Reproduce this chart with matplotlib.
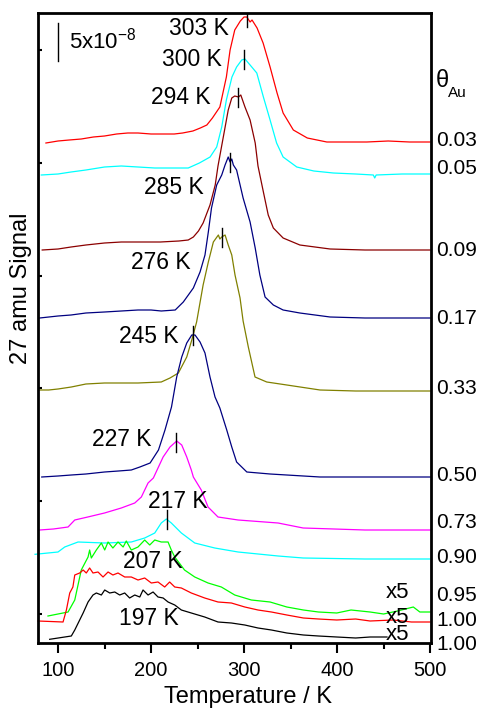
import matplotlib
matplotlib.use('Agg')
import matplotlib.pyplot as plt
import numpy as np

plt.rcParams['font.family'] = ['Liberation Sans', 'DejaVu Sans']
plt.rcParams['mathtext.default'] = 'regular'

# ---------------- data (temperature in K, offset signal in arb. units) ----------------
T_003 = [87, 100, 112, 125, 138, 150, 163, 175, 186, 200, 212, 225, 234, 245, 253, 260, 266, 274, 281, 285,
         290, 296, 300, 303, 306.5, 308.6, 314, 320.5, 328, 335.5, 342, 353, 368, 389, 410, 432, 455, 478, 500]
S_003 = [500, 502, 503, 504, 506, 507, 509, 510, 510, 509, 509, 509, 510, 512, 515, 518, 525, 536, 566, 593,
         613, 622, 626, 626, 621, 623, 615, 600, 576, 550, 530, 513, 505, 501, 501, 501, 502, 501, 501]

T_005 = [82, 100, 114, 130, 150, 168, 186, 204, 222, 240, 252, 263.5, 270.6, 276, 281, 287, 292, 297.5, 301,
         306.5, 313.7, 320.8, 328, 335, 342, 356.7, 375, 396, 420, 439, 440.5, 442, 470, 500]
S_005 = [468, 469, 471, 473, 476, 477, 476, 475, 475, 475, 480, 486, 496, 516, 543, 566, 576, 583, 584,
         578, 570, 546, 523, 500, 486, 476, 472, 470, 469, 468, 465, 468, 469, 469]

T_009 = [83, 100, 114, 130, 150, 168, 186, 210, 230, 240, 245.5, 251, 256, 263.4, 269, 272, 277.7, 283, 286.8,
         290, 294, 296.5, 301, 306.5, 312, 315, 320.8, 326, 331.5, 342, 360, 392.5, 430, 465, 500]
S_009 = [393, 394, 396, 398, 400, 401, 401, 401, 402, 403, 406, 412, 420, 438, 458, 477, 506, 533, 545,
         547, 546, 548, 536, 523, 500, 477, 451, 428, 415, 405, 398, 394, 393, 393, 393]

T_017 = [80.3, 100, 114, 130, 150, 168, 186, 200, 211, 226, 234.7, 245.5, 252.7, 258, 261.6, 265, 270.6, 276,
         279.6, 283, 285, 286.8, 288.5, 292, 294, 299, 306.5, 312, 317, 322.6, 331.5, 342, 360, 392.5, 430,
         465, 500]
S_017 = [325, 327, 328, 330, 331, 332, 333, 333, 332, 333, 341, 355, 371, 388, 411, 435, 458, 468,
         478, 486, 481, 484, 478, 473, 465, 445, 421, 395, 368, 346, 338, 333, 330, 326, 325,
         325, 325]

T_033 = [80.3, 90, 100, 114.3, 130, 150, 168, 186, 211, 220.4, 229.4, 238.4, 243.8, 249, 256, 261.6, 267,
         272.4, 274, 276, 279.6, 283, 286.8, 290.3, 295.7, 299, 304.6, 311.8, 324.4, 346, 381.7, 420, 460, 500]
S_033 = [253, 253, 254, 256, 259, 260, 260, 260, 261, 265, 270, 286, 303, 321, 358, 381, 401,
         408, 404, 406, 408, 398, 388, 368, 345, 322, 296, 266, 261, 258, 253, 252, 252, 252]

T_050 = [82.5, 100, 114.3, 130, 150, 165, 178.8, 188, 199, 208, 215, 222, 227.6, 233, 238.4, 243.8, 247.3,
         252.7, 258, 263.4, 268.8, 274, 281.4, 286.8, 292, 303, 328, 381.7, 440, 500]
S_050 = [166, 167, 168, 169, 171, 172, 173, 176, 180, 193, 213, 236, 266, 286, 300, 308, 308,
         301, 290, 266, 246, 235, 213, 196, 181, 171, 169, 166, 166, 166]

T_073 = [80.3, 95, 110.8, 118, 132, 150, 168, 182.5, 189.6, 196.8, 202.5, 213, 220.4, 227.6, 233, 238.4,
         243.3, 245.5, 254, 261.3, 272, 293.6, 336.6, 363.5, 430, 500]
S_073 = [113, 114, 116, 123, 126, 130, 135, 140, 146, 160, 165, 186, 196, 202, 198, 186,
         173, 166, 153, 136, 126, 123, 120, 115, 113, 113]

T_090 = [75.3, 100, 107.2, 121.5, 150, 178.8, 193.2, 204, 211, 216.5, 221.8, 232.6, 247, 268.5, 293.6, 336.6,
         363.5, 430, 500]
S_090 = [88.7, 91, 96, 101, 100, 101, 105, 110, 120, 124, 120, 110, 100, 95, 91, 87,
         85, 84, 84]

T_095 = [89.2, 110.8, 118, 125, 132.3, 134, 135.8, 141.2, 146.6, 150.2, 153.8, 159, 164.5, 170, 173.4, 178.8,
         186, 193.2, 198.6, 204, 211, 218.3, 221.8, 225.5, 236, 247, 261.3, 275.6, 290, 307.8, 328, 346, 363.8,
         380, 399.7, 415, 435.5, 450, 465, 482, 489, 500]
S_095 = [27, 31, 43, 73, 86, 93, 85, 93, 100, 93, 101, 95, 101, 96, 102, 93,
         96, 103, 98, 103, 101, 101, 93, 86, 73, 66, 60, 56, 48, 43, 41, 36, 33,
         31, 30, 33, 31, 29, 32, 36, 31, 31]

T_100a = [78.5, 105.4, 109, 112.6, 116, 118, 123.3, 127, 130.4, 134, 137.6, 143, 148.4, 153.8, 159, 164.5,
          171.7, 178.8, 186, 193.2, 200.3, 207.5, 214.7, 220, 225.5, 232.6, 243.3, 257.7, 272, 286.4, 300.8,
          315, 329.4, 346, 363.8, 380, 399.7, 420, 435.5, 460, 480, 500]
S_100a = [22, 21, 33, 50, 56, 68, 70, 73, 70, 75, 70, 71, 66, 71, 68, 70,
          66, 66, 63, 65, 60, 61, 56, 61, 56, 55, 50, 45, 41, 40, 36,
          33, 31, 28, 25, 24, 23, 24, 22, 23, 21, 21]

T_100b = [91, 114.3, 118, 123.3, 127, 132.3, 137.6, 141.2, 146.6, 150.2, 155.6, 161, 166.3, 171.7, 177, 182.5,
          187.9, 191.4, 196.8, 202.2, 207.5, 213, 218.3, 225.5, 232.6, 243.3, 257.7, 272, 286.4, 300.8, 315,
          329.4, 346, 363.8, 380, 399.7, 420, 435.5, 453.7]
S_100b = [3.7, 7, 13, 23, 30, 41, 48, 50, 48, 53, 50, 51, 48, 50, 45, 48,
          46, 53, 48, 51, 46, 45, 41, 38, 33, 30, 26, 21, 20, 18, 15,
          13, 10, 8, 7, 6, 5, 6, 6]

coverage_labels = ['0.03', '0.05', '0.09', '0.17', '0.33', '0.50', '0.73', '0.90', '0.95', '1.00', '1.00']
peak_temps = [303, 300, 294, 285, 276, 245, 227, 217, 207, 197]
peak_labels = ['303 K', '300 K', '294 K', '285 K', '276 K', '245 K', '227 K', '217 K', '207 K', '197 K']
marked_peaks = [303, 300, 294, 285, 276, 245, 227, 217]
scale_bar = 37.5   # height of 5x10^-8 in signal units

series = [(T_003, S_003), (T_005, S_005), (T_009, S_009), (T_017, S_017), (T_033, S_033),
          (T_050, S_050), (T_073, S_073), (T_090, S_090), (T_095, S_095), (T_100a, S_100a),
          (T_100b, S_100b)]
colors = ['#ff0000', '#00ffff', '#8b0000', '#000080', '#808000', '#000080', '#ff00ff',
          '#00ffff', '#00ff00', '#ff0000', '#000000']

# ---------------- figure ----------------
W, H = 483, 710
fig = plt.figure(figsize=(W / 100, H / 100), dpi=100)
ax = fig.add_axes([38.3 / W, (H - 643.3) / H, (431 - 38.3) / W, (643.3 - 13.3) / H])
ax.set_xlim(78.8, 501)
ax.set_ylim(-0.3, 629.7)

for (t, s), c in zip(series, colors):
    clip = not (t[0] < 78.8)
    ax.plot(t, s, color=c, lw=0.9, clip_on=clip, solid_joinstyle='round')

# peak markers
for tp, (t, s) in zip(marked_peaks, series[:len(marked_peaks)]):
    yp = np.interp(tp, t, s)
    ax.plot([tp, tp], [yp - 10, yp + 9], color='black', lw=1.0)

# peak labels
label_pos = [(251, 614.7), (244, 583), (232, 546), (225, 455.5), (210, 380),
             (197.5, 306), (169, 203), (229, 141), (202, 82), (198, 24.3)]
for (x, y), lab in zip(label_pos, peak_labels):
    ax.text(x, y, lab, fontsize=16.5, ha='center', va='center')

# x5 labels
for y in [50.5, 25.5, 9]:
    ax.text(465, y, 'x5', fontsize=16, ha='center', va='center')

# scale bar
ax.plot([100.3, 100.3], [582.3, 582.3 + scale_bar], color='black', lw=1.0)
ax.text(112, 602, r'5x10$^{-8}$', fontsize=16, ha='left', va='center')

# right coverage labels
right_y = [141, 169, 250.8, 319, 389, 475.8, 522.5, 557.5, 595.8, 620.8, 644]
for py, lab in zip(right_y, coverage_labels):
    fig.text(436 / W, (H - py) / H, lab, fontsize=15, ha='left', va='center')
fig.text(436 / W, (H - 81) / H, '\u03b8', fontsize=17, ha='left', va='center')
fig.text(448 / W, (H - 93) / H, 'Au', fontsize=11, ha='left', va='center')

# axes styling
for sp in ax.spines.values():
    sp.set_linewidth(2.0)
ax.set_xticks([100, 200, 300, 400, 500])
ax.set_xticks([150, 250, 350, 450], minor=True)
ax.set_yticks([29, 141.8, 254.6, 367.4, 480.2, 593])
ax.set_yticklabels([])
ax.tick_params(axis='x', which='major', direction='out', length=7, width=1.5, labelsize=14.5, pad=6,
               top=False)
ax.tick_params(axis='x', which='minor', direction='out', length=4.5, width=1.5, top=False)
ax.tick_params(axis='y', which='major', direction='in', length=3, width=1.5, right=False)

fig.text(248 / W, (H - 697) / H, 'Temperature / K', fontsize=17, ha='center', va='center')
fig.text(21 / W, (H - 288) / H, '27 amu Signal', fontsize=17, ha='center', va='center', rotation=90)

fig.savefig('out.png', dpi=100)
